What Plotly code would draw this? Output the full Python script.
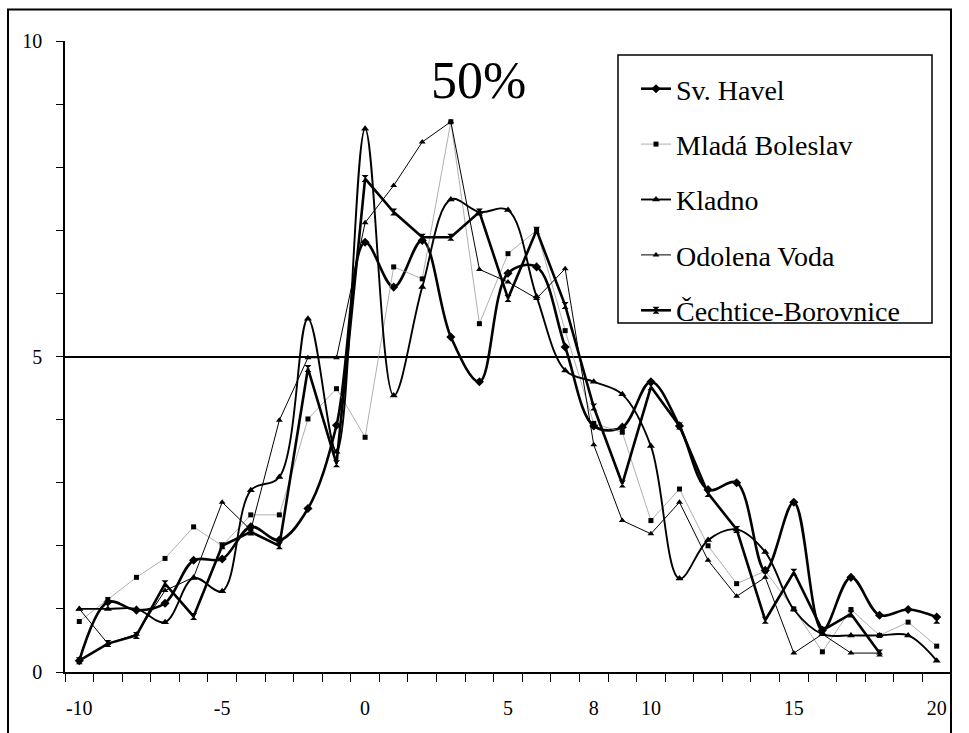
import plotly.graph_objects as go

# Distance categories on the horizontal axis
categories = [-10, -9, -8, -7, -6, -5, -4, -3, -2, -1, 0, 1, 2, 3, 4, 5, 6, 7, 8, 9,
              10, 11, 12, 13, 14, 15, 16, 17, 18, 19, 20]

# Series values, one per category (None = no measurement)
sv_havel = [0.18, 1.11, 0.98, 1.09, 1.77, 1.79, 2.30, 2.09, 2.59, 3.91,
            6.81, 6.10, 6.84, 5.31, 4.60, 6.32, 6.42, 5.15, 3.90, 3.88,
            4.60, 3.90, 2.89, 3.00, 1.61, 2.69, 0.66, 1.50, 0.90, 0.99, 0.87]
mlada_boleslav = [0.80, 1.15, 1.50, 1.80, 2.30, 2.00, 2.49, 2.49, 4.01, 4.49,
                  3.72, 6.42, 6.23, 8.72, 5.52, 6.63, 7.00, 5.41, 3.94, 3.80,
                  2.40, 2.90, 2.00, 1.40, 1.60, 1.00, 0.32, 0.99, 0.58, 0.79, 0.41]
kladno = [1.00, 1.00, 1.00, 0.79, 1.49, 1.28, 2.88, 3.09, 5.60, 3.49,
          8.61, 4.38, 6.10, 7.49, 7.29, 7.32, 5.95, 4.78, 4.60, 4.40,
          3.58, 1.48, 2.09, 2.26, 1.90, 0.99, 0.60, 0.58, 0.58, 0.58, 0.18]
odolena_voda = [1.00, 0.45, 0.60, 1.29, 1.50, 2.69, 2.25, 3.99, 4.98, 4.98,
                7.12, 7.71, 8.40, 8.72, 6.38, 6.18, 5.92, 6.39, 3.60, 2.40,
                2.19, 2.69, 1.77, 1.20, 1.50, 0.30, 0.60, 0.30, 0.30, None, None]
cechtice_borovnice = [0.18, 0.45, 0.58, 1.40, 0.88, 2.00, 2.22, 2.00, 4.81, 3.30,
                      7.82, 7.29, 6.89, 6.89, 7.29, 5.92, 7.00, 5.81, 4.20, 2.98,
                      4.52, 3.90, 2.83, 2.26, 0.82, 1.58, 0.66, 0.92, 0.30, None, 0.82]

x_tick_values = [-10, -5, 0, 5, 8, 10, 15, 20]
x_tick_labels = ["-10", "-5", "0", "5", "8", "10", "15", "20"]
y_tick_values = [0, 5, 10]
y_tick_labels = ["0", "5", "10"]

FONT = "Liberation Serif"

series = [
    dict(name="Sv. Havel", y=sv_havel, shape="spline", width=2.6, color="black",
         symbol="diamond", size=7),
    dict(name="Mladá Boleslav", y=mlada_boleslav, shape="linear", width=0.7, color="#8c8c8c",
         symbol="square", size=5),
    dict(name="Kladno", y=kladno, shape="spline", width=1.9, color="black",
         symbol="triangle-up", size=7),
    dict(name="Odolena Voda", y=odolena_voda, shape="linear", width=1.0, color="black",
         symbol="triangle-up", size=6),
    dict(name="Čechtice-Borovnice", y=cechtice_borovnice, shape="linear", width=2.6, color="black",
         symbol="hourglass", size=7),
]

fig = go.Figure()
for i, s in enumerate(series):
    fig.add_trace(go.Scatter(
        x=categories, y=s["y"], name=s["name"], mode="lines+markers",
        line=dict(shape=s["shape"], smoothing=1.0, width=s["width"], color=s["color"]),
        marker=dict(symbol=s["symbol"], size=s["size"], color="black", line=dict(width=0)),
        connectgaps=False, legendgroup=f"g{i}",
    ))

# pixel helpers for the 969x733 canvas
L, R, T, B = 65, 18, 41, 61
PW, PH = 969 - L - R, 733 - T - B


def px_x(px):
    return (px - L) / PW


def px_y(py):
    return (733 - B - py) / PH


fig.update_layout(
    width=969, height=733, autosize=False,
    margin=dict(l=L, r=R, t=T, b=B, pad=0),
    paper_bgcolor="white", plot_bgcolor="white",
    font=dict(family=FONT, color="black", size=20),
    showlegend=True,
    legend=dict(
        x=px_x(636), y=px_y(64), xanchor="left", yanchor="top",
        bgcolor="rgba(0,0,0,0)", borderwidth=0,
        font=dict(family=FONT, size=28, color="black"),
        traceorder="grouped", tracegroupgap=16, itemwidth=30,
    ),
    xaxis=dict(
        range=[-10.5, 20.5], tickmode="array", tickvals=x_tick_values, ticktext=x_tick_labels,
        ticks="", showline=True, linecolor="black", linewidth=1.6, showgrid=False, zeroline=False,
        tickfont=dict(family=FONT, size=20), ticklabelstandoff=17,
        minor=dict(tick0=-10.5, dtick=1, ticks="outside", ticklen=8, tickwidth=1.3,
                   tickcolor="black", showgrid=False),
    ),
    yaxis=dict(
        range=[0, 10], tickmode="array", tickvals=y_tick_values, ticktext=y_tick_labels,
        ticks="outside", ticklen=7, tickwidth=1.3, tickcolor="black",
        showline=True, linecolor="black", linewidth=1.6,
        showgrid=True, gridcolor="black", gridwidth=1.6, zeroline=False,
        tickfont=dict(family=FONT, size=20), ticklabelstandoff=10,
        minor=dict(dtick=1, ticks="outside", ticklen=7, tickwidth=1.3, tickcolor="black",
                   showgrid=False),
    ),
    shapes=[
        # outer chart frame
        dict(type="rect", xref="paper", yref="paper",
             x0=px_x(8), x1=px_x(951), y0=px_y(760), y1=px_y(9.5),
             line=dict(color="black", width=2), fillcolor="rgba(0,0,0,0)", layer="above"),
        # legend frame
        dict(type="rect", xref="paper", yref="paper",
             x0=px_x(618), x1=px_x(932), y0=px_y(323), y1=px_y(55),
             line=dict(color="black", width=1.5), fillcolor="rgba(0,0,0,0)", layer="above"),
    ],
    annotations=[
        dict(text="50%", xref="paper", yref="paper", x=px_x(478), y=px_y(80),
             xanchor="center", yanchor="middle", showarrow=False,
             font=dict(family=FONT, size=52, color="black")),
    ],
)

fig.write_html("out.html")
